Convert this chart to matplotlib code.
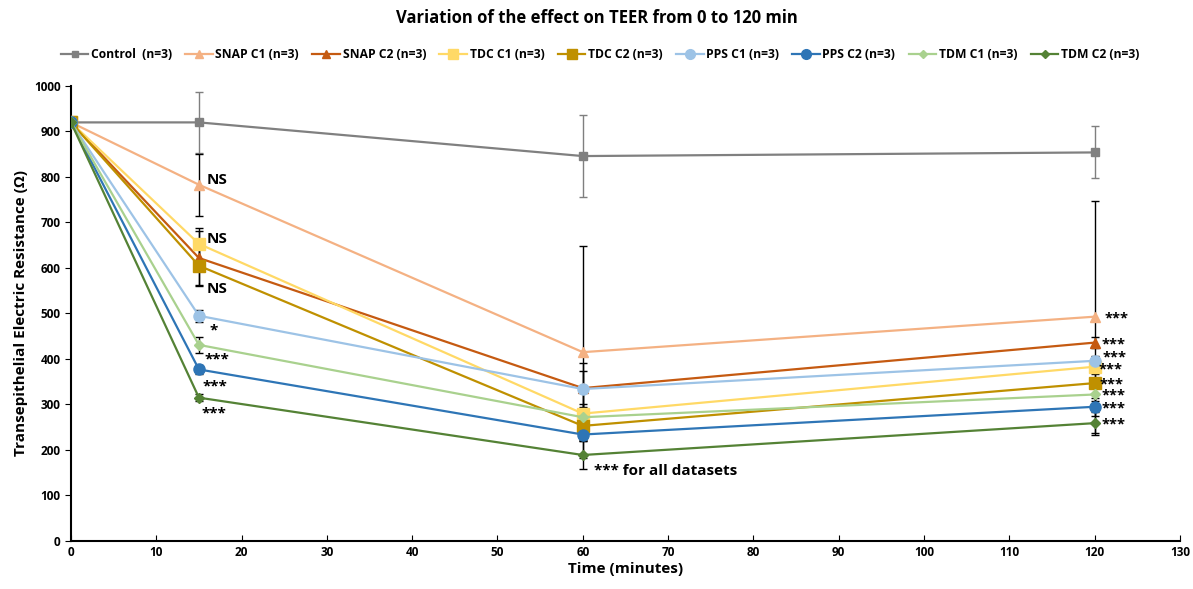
import matplotlib.pyplot as plt
from matplotlib.lines import Line2D

plt.rcParams['font.family'] = ['Open Sans', 'DejaVu Sans']

times = [0, 15, 60, 120]
labels = ['Control  (n=3)', 'SNAP C1 (n=3)', 'SNAP C2 (n=3)', 'TDC C1 (n=3)', 'TDC C2 (n=3)',
          'PPS C1 (n=3)', 'PPS C2 (n=3)', 'TDM C1 (n=3)', 'TDM C2 (n=3)']

control = [920, 920, 846, 854]
snap_c1 = [920, 783, 415, 493]
snap_c2 = [920, 622, 336, 436]
tdc_c1 = [920, 653, 280, 383]
tdc_c2 = [920, 605, 253, 347]
pps_c1 = [920, 495, 334, 396]
pps_c2 = [920, 377, 234, 295]
tdm_c1 = [920, 431, 272, 322]
tdm_c2 = [920, 315, 189, 259]

# estimated error bar half-widths
err_control = [0, 67, 91, 57]
err_snap_c1 = [0, 68, 233, 255]
err_snap_c2 = [0, 60, 55, 12]
err_tdc_c1 = [0, 35, 20, 15]
err_tdc_c2 = [0, 45, 30, 25]
err_pps_c1 = [0, 13, 40, 10]
err_pps_c2 = [0, 10, 15, 20]
err_tdm_c1 = [0, 18, 20, 15]
err_tdm_c2 = [0, 8, 30, 25]

series = [control, snap_c1, snap_c2, tdc_c1, tdc_c2, pps_c1, pps_c2, tdm_c1, tdm_c2]
errors = [err_control, err_snap_c1, err_snap_c2, err_tdc_c1, err_tdc_c2,
          err_pps_c1, err_pps_c2, err_tdm_c1, err_tdm_c2]
colors = ['#808080', '#F4B183', '#C55A11', '#FFD966', '#BF9000',
          '#9DC3E6', '#2E75B6', '#A9D18E', '#548235']
markers = ['s', '^', '^', 's', 's', 'o', 'o', 'D', 'D']
msizes = [6, 7, 7, 8, 8, 8, 8, 5, 5]

fig = plt.figure(figsize=(11.93, 5.89), dpi=100)
ax = fig.add_axes([0.0595, 0.0815, 0.9295, 0.7725])

handles = []
for vals, err, c, m, ms, lab in zip(series, errors, colors, markers, msizes, labels):
    ecol = '#7f7f7f' if c == '#808080' else 'black'
    ax.errorbar(times, vals, yerr=err, fmt='none', ecolor=ecol, elinewidth=1,
                capsize=3, zorder=2)
    ax.plot(times, vals, color=c, marker=m, markersize=ms, lw=1.6, zorder=3)
    handles.append(Line2D([], [], color=c, marker=m, markersize=ms - 1, lw=1.6, label=lab))

ax.set_xlim(0, 130)
ax.set_ylim(0, 1000)
ax.set_xticks(range(0, 131, 10))
ax.set_yticks(range(0, 1001, 100))
ax.spines['top'].set_visible(False)
ax.spines['right'].set_visible(False)
ax.spines['left'].set_linewidth(1.5)
ax.spines['bottom'].set_linewidth(1.5)
ax.tick_params(axis='x', direction='in', length=4)
ax.tick_params(axis='y', direction='out', length=4)
for t in ax.get_xticklabels() + ax.get_yticklabels():
    t.set_fontsize(8.5)
    t.set_fontweight('bold')

ax.set_xlabel('Time (minutes)', fontsize=11, fontweight='bold', labelpad=2)
ax.set_ylabel('Transepithelial Electric Resistance (Ω)', fontsize=11, fontweight='bold')
fig.suptitle('Variation of the effect on TEER from 0 to 120 min', fontsize=12, fontweight='bold', y=0.985)

ax.legend(handles=handles, loc='lower center', bbox_to_anchor=(0.477, 1.03), ncol=9,
          frameon=False, prop={'size': 8.7, 'weight': 'bold'}, handlelength=2.3,
          columnspacing=1.1, handletextpad=0.2)

# significance annotations
fw = dict(fontweight='bold', va='center', ha='left')
ax.text(15.9, 793, 'NS', fontsize=11, **fw)
ax.text(15.9, 664, 'NS', fontsize=11, **fw)
ax.text(15.9, 554, 'NS', fontsize=11, **fw)
ax.text(16.2, 462, '*', fontsize=11, **fw)
ax.text(15.6, 398, '***', fontsize=11, **fw)
ax.text(15.4, 340, '***', fontsize=11, **fw)
ax.text(15.3, 280, '***', fontsize=11, **fw)
ax.text(61.3, 154, '*** for all datasets', fontsize=11, **fw)
right_y = [488, 431, 403, 376, 345, 319, 291, 256]
right_x = [121.2, 120.8, 120.9, 120.5, 120.6, 120.8, 120.8, 120.8]
for rx, ry in zip(right_x, right_y):
    ax.text(rx, ry, '***', fontsize=10.5, **fw)

fig.savefig('out.png', dpi=100)
